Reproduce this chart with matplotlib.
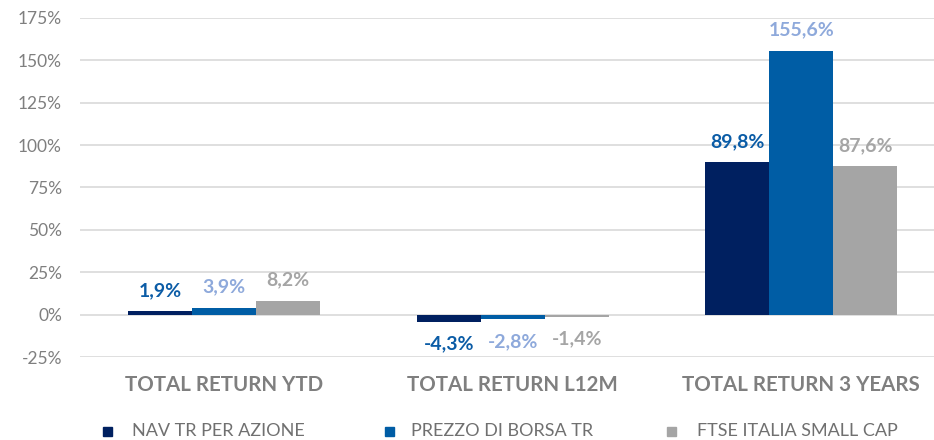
import numpy as np
import matplotlib.pyplot as plt
from matplotlib.patches import Rectangle

plt.rcParams['font.family'] = ['Lato', 'DejaVu Sans']

categories = ["TOTAL RETURN YTD", "TOTAL RETURN L12M", "TOTAL RETURN 3 YEARS"]
series_names = ["NAV TR PER AZIONE", "PREZZO DI BORSA TR", "FTSE ITALIA SMALL CAP"]
nav = [1.9, -4.3, 89.8]
prezzo = [3.9, -2.8, 155.6]
ftse = [8.2, -1.4, 87.6]

bar_colors = ["#002060", "#005DA5", "#A5A5A5"]
label_colors = ["#0B5CA6", "#8EA9DB", "#A5A5A5"]
grey = "#7F7F7F"

fig = plt.figure(figsize=(9.34, 4.4), dpi=100)
ax = fig.add_axes([80 / 934, 83 / 440, 854 / 934, 339 / 440])

x = np.arange(len(categories))
w = 0.222
for k, vals in enumerate([nav, prezzo, ftse]):
    pos = x + (k - 1) * w
    ax.bar(pos, vals, width=w, color=bar_colors[k], zorder=3)
    for px, v in zip(pos, vals):
        off = 15 if v >= 0 else -16
        ax.annotate(f"{v:.1f}%".replace(".", ","), (px, v), xytext=(0, off),
                    textcoords="offset points", ha="center", va="center",
                    fontsize=14, fontweight="bold", color=label_colors[k])

ax.set_xlim(-0.5, -0.5 + 854 / 288.5)
ax.set_ylim(-25, 175)
ax.set_yticks(np.arange(-25, 176, 25))
ax.set_yticklabels([f"{t}%" for t in range(-25, 176, 25)])
ax.grid(axis="y", color="#D9D9D9", linewidth=1.2, zorder=0)
for s in ax.spines.values():
    s.set_visible(False)
ax.tick_params(axis="y", length=0, labelsize=12.5, labelcolor=grey, pad=13)
ax.tick_params(axis="x", length=0)
ax.set_xticks(x)
ax.set_xticklabels(categories, fontsize=14.8, fontweight="bold", color=grey)
ax.tick_params(axis="x", pad=13)

# legend drawn by hand to match spacing
mark_x = [103, 385, 667]
text_x = [132, 411, 697]
for mx, tx, name, c in zip(mark_x, text_x, series_names, bar_colors):
    fig.patches.append(Rectangle((mx / 934, (440 - 436) / 440), 9 / 934, 9 / 440,
                                 transform=fig.transFigure, color=c))
    fig.text(tx / 934, (440 - 431) / 440, name, fontsize=13, color="#707070",
             va="center", ha="left")

fig.savefig("out.png", dpi=100)
